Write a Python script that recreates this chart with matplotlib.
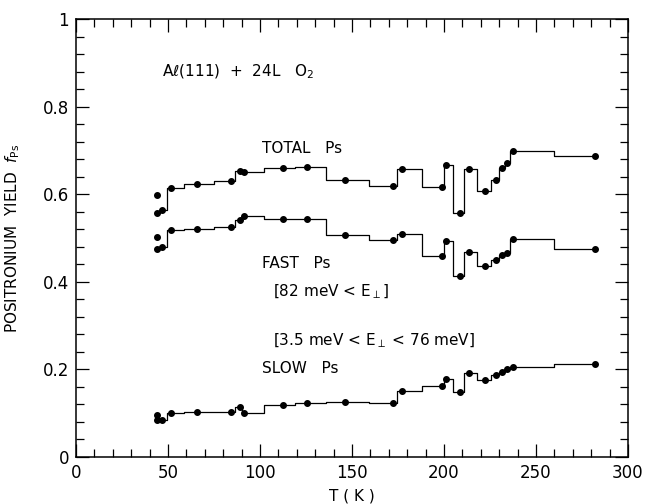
import matplotlib
matplotlib.use("Agg")
import matplotlib.pyplot as plt
from matplotlib.ticker import MultipleLocator, FuncFormatter

plt.rcParams['font.family'] = ['DejaVu Sans']
plt.rcParams['mathtext.fontset'] = 'dejavusans'

# temperatures (K), same for all three series
T = [44.2, 44.2, 46.8, 51.6, 65.6, 84.0, 88.9, 91.3, 112.7, 125.7, 146.2,
     172.1, 177.0, 198.7, 200.9, 208.7, 213.6, 222.5, 228.4, 231.6, 234.2,
     237.7, 282.0]

total = [0.598, 0.558, 0.564, 0.615, 0.623, 0.629, 0.652, 0.650, 0.659, 0.663,
         0.633, 0.618, 0.657, 0.617, 0.667, 0.558, 0.657, 0.608, 0.632, 0.659,
         0.671, 0.699, 0.688]

fast = [0.502, 0.475, 0.480, 0.518, 0.520, 0.526, 0.540, 0.551, 0.543, 0.543,
        0.507, 0.496, 0.508, 0.459, 0.492, 0.414, 0.469, 0.435, 0.450, 0.461,
        0.466, 0.498, 0.476]

slow = [0.096, 0.084, 0.084, 0.100, 0.103, 0.103, 0.113, 0.101, 0.119, 0.124,
        0.126, 0.124, 0.151, 0.163, 0.178, 0.149, 0.191, 0.176, 0.187, 0.193,
        0.200, 0.205, 0.212]

fig = plt.figure(figsize=(6.45, 5.04), dpi=100)
ax = fig.add_axes([0.1178, 0.0933, 0.8558, 0.869])

for ys in (total, fast, slow):
    # step line leaves out the first (repeat) point at 44 K
    ax.step(T[1:], ys[1:], where='mid', color='k', lw=0.9)
    ax.plot(T, ys, 'o', color='k', ms=4)

ax.set_xlim(0, 300)
ax.set_ylim(0, 1)

ax.xaxis.set_major_locator(MultipleLocator(50))
ax.xaxis.set_minor_locator(MultipleLocator(10))
ax.yaxis.set_major_locator(MultipleLocator(0.2))
ax.yaxis.set_minor_locator(MultipleLocator(0.04))
fmt = FuncFormatter(lambda v, p: '%g' % round(v, 2))
ax.xaxis.set_major_formatter(fmt)
ax.yaxis.set_major_formatter(fmt)

ax.tick_params(which='both', direction='in', top=True, right=True,
               labelsize=12, width=0.9)
ax.tick_params(which='major', length=9.5, pad=5)
ax.tick_params(which='minor', length=5.5)
for s in ax.spines.values():
    s.set_linewidth(1.1)

ax.set_xlabel('T ( K )', fontsize=11, labelpad=5)
ax.set_ylabel(r'POSITRONIUM  YIELD  $f_{\rm Ps}$', fontsize=11, labelpad=15)

fs = 11
ax.text(46.7, 0.879, 'A\u2113(111)  +  24L   O$_2$', fontsize=fs, va='center')
ax.text(101, 0.705, 'TOTAL   Ps', fontsize=fs, va='center')
ax.text(101, 0.441, 'FAST   Ps', fontsize=fs, va='center')
ax.text(107, 0.377, r'[82 meV < E$_{\perp}$]', fontsize=fs, va='center')
ax.text(107, 0.266, r'[3.5 meV < E$_{\perp}$ < 76 meV]', fontsize=fs, va='center')
ax.text(101, 0.203, 'SLOW   Ps', fontsize=fs, va='center')

fig.savefig('out.png', dpi=100)
